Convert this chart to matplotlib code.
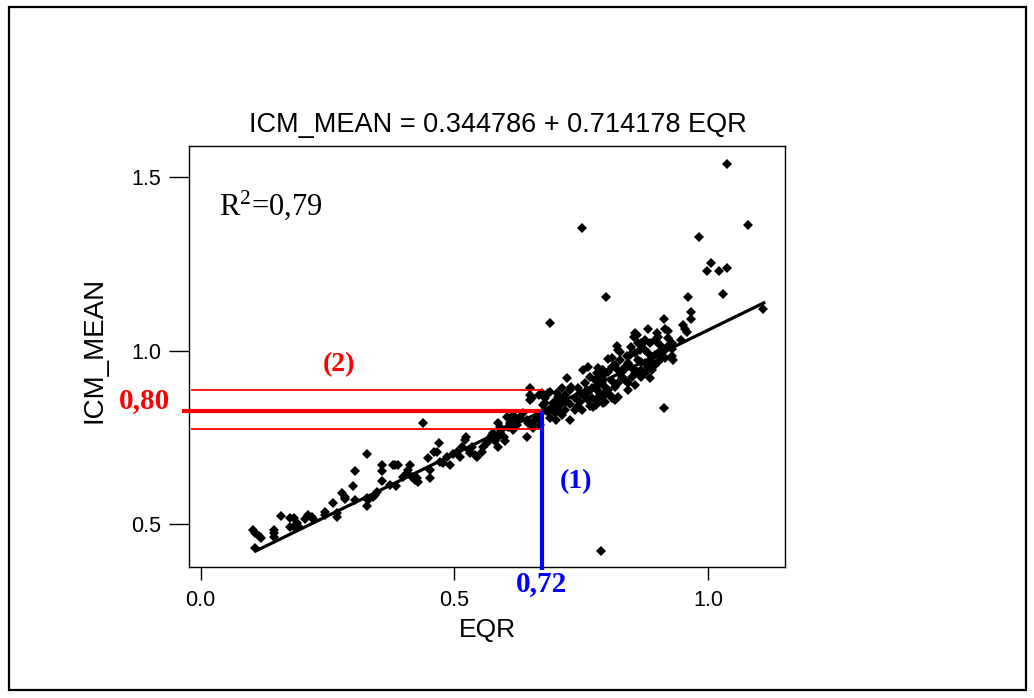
import matplotlib
matplotlib.use("Agg")
import matplotlib.pyplot as plt
from matplotlib.patches import Rectangle

plt.rcParams['font.family'] = ['Liberation Sans', 'DejaVu Sans']
plt.rcParams['mathtext.fontset'] = 'custom'
plt.rcParams['mathtext.rm'] = 'Liberation Serif'
plt.rcParams['mathtext.it'] = 'Liberation Serif:italic'

# ---------------- data ----------------
eqr = [0.108, 0.104, 0.108, 0.114, 0.118, 0.145, 0.145, 0.145, 0.158, 0.176,
       0.183, 0.176, 0.183, 0.189, 0.192, 0.206, 0.212, 0.219, 0.222, 0.245,
       0.245, 0.261, 0.268, 0.268, 0.278, 0.285, 0.285, 0.301, 0.304, 0.304,
       0.327, 0.327, 0.327, 0.330, 0.340, 0.344, 0.347, 0.357, 0.358, 0.358,
       0.380, 0.373, 0.438, 0.384, 0.388, 0.386, 0.399, 0.406, 0.409, 0.413,
       0.416, 0.423, 0.426, 0.429, 0.449, 0.452, 0.452, 0.459, 0.465, 0.470,
       0.472, 0.478, 0.485, 0.492, 0.498, 0.505, 0.511, 0.515, 0.521, 0.524,
       0.528, 0.531, 0.534, 0.541, 0.544, 0.554, 0.557, 0.564, 0.567, 0.570,
       0.574, 0.577, 0.580, 0.584, 0.587, 0.590, 0.593, 0.597, 0.600, 0.587,
       0.590, 0.603, 0.606, 0.610, 0.616, 0.623, 0.649, 0.649, 0.653, 0.649,
       0.666, 0.672, 0.679, 0.685, 0.689, 0.610, 0.616, 0.623, 0.630, 0.636,
       0.643, 0.646, 0.653, 0.659, 0.666, 0.643, 0.656, 0.685, 0.692, 0.699,
       0.705, 0.712, 0.718, 0.722, 0.728, 0.731, 0.738, 0.741, 0.744, 0.748,
       0.754, 0.758, 0.761, 0.763, 0.768, 0.771, 0.774, 0.777, 0.781, 0.784,
       0.787, 0.791, 0.794, 0.728, 0.751, 0.718, 0.705, 0.699, 0.758, 0.764,
       0.800, 0.960, 0.967, 0.967, 0.914, 0.881, 0.951, 0.955, 0.958, 0.899,
       0.902, 0.915, 0.921, 0.856, 0.860, 0.855, 0.863, 0.869, 0.873, 0.896,
       0.899, 0.820, 0.823, 0.827, 0.848, 0.856, 0.930, 0.930, 0.930, 0.932,
       0.804, 0.876, 0.882, 0.889, 0.896, 0.902, 0.909, 0.915, 0.922, 0.863,
       0.869, 0.876, 0.882, 0.889, 0.896, 0.902, 0.909, 0.915, 0.886, 0.856,
       0.817, 0.823, 0.914, 0.784, 0.791, 0.797, 0.804, 0.810, 0.817, 0.823,
       0.830, 0.837, 0.843, 0.850, 0.856, 0.830, 0.837, 0.843, 0.850, 0.856,
       0.863, 0.869, 0.784, 0.791, 0.797, 0.804, 0.810, 0.817, 0.823, 0.781,
       0.787, 0.794, 0.800, 0.807, 0.843, 0.869, 0.876, 0.689, 1.030, 1.109,
       1.038, 1.080, 0.982, 1.006, 0.999, 1.021, 1.038, 0.751, 0.790, 0.946,
       0.679, 0.689, 0.701, 0.712, 0.708, 0.720, 0.669, 0.675, 0.768,
       0.780, 0.794, 0.784, 0.797, 0.811, 0.728, 0.738, 0.748, 0.764, 0.772,
       0.780, 0.712, 0.703, 0.695, 0.679, 0.886, 0.906, 0.922, 0.876, 0.866,
       0.840, 0.827, 0.811, 0.847, 0.890]

icm = [0.430, 0.483, 0.475, 0.466, 0.459, 0.483, 0.473, 0.462, 0.523, 0.517,
       0.517, 0.492, 0.492, 0.502, 0.494, 0.514, 0.526, 0.521, 0.514, 0.536,
       0.526, 0.562, 0.531, 0.521, 0.590, 0.571, 0.579, 0.610, 0.653, 0.569,
       0.701, 0.552, 0.574, 0.569, 0.579, 0.584, 0.593, 0.624, 0.653, 0.670,
       0.670, 0.613, 0.791, 0.670, 0.670, 0.610, 0.637, 0.646, 0.656, 0.670,
       0.637, 0.627, 0.632, 0.622, 0.690, 0.656, 0.634, 0.709, 0.709, 0.735,
       0.680, 0.675, 0.694, 0.670, 0.702, 0.709, 0.694, 0.723, 0.742, 0.752,
       0.714, 0.704, 0.723, 0.699, 0.694, 0.709, 0.723, 0.733, 0.742, 0.747,
       0.757, 0.762, 0.738, 0.747, 0.723, 0.762, 0.771, 0.752, 0.738, 0.791,
       0.781, 0.810, 0.781, 0.791, 0.771, 0.786, 0.892, 0.872, 0.863, 0.858,
       0.872, 0.877, 0.863, 0.877, 0.882, 0.800, 0.815, 0.800, 0.810, 0.819,
       0.800, 0.791, 0.786, 0.800, 0.805, 0.752, 0.776, 0.824, 0.838, 0.853,
       0.867, 0.858, 0.872, 0.920, 0.887, 0.896, 0.863, 0.838, 0.892, 0.877,
       0.944, 0.906, 0.887, 0.954, 0.925, 0.892, 0.838, 0.915, 0.935, 0.901,
       0.872, 0.925, 0.944, 0.800, 0.829, 0.829, 0.829, 0.819, 0.867, 0.858,
       1.154, 1.154, 1.110, 1.091, 1.091, 1.062, 1.074, 1.062, 1.055, 1.050,
       1.040, 1.062, 1.057, 1.052, 1.045, 1.040, 1.021, 1.021, 1.021, 1.031,
       1.026, 1.012, 1.002, 0.997, 1.010, 0.994, 1.021, 1.004, 0.985, 0.973,
       0.975, 1.002, 0.992, 0.983, 0.988, 0.992, 0.997, 1.002, 1.012, 0.973,
       0.968, 0.964, 0.954, 0.944, 0.959, 0.968, 0.978, 0.978, 0.920, 0.901,
       0.858, 0.867, 0.834, 0.949, 0.944, 0.935, 0.939, 0.954, 0.959, 0.944,
       0.939, 0.954, 0.964, 0.949, 0.944, 0.925, 0.915, 0.906, 0.925, 0.935,
       0.939, 0.925, 0.915, 0.906, 0.896, 0.887, 0.911, 0.896, 0.906, 0.887,
       0.877, 0.867, 0.882, 0.872, 0.887, 0.944, 0.935, 1.081, 1.163, 1.119,
       1.539, 1.363, 1.329, 1.254, 1.230, 1.230, 1.239, 1.353, 0.423, 1.030,
       0.829, 0.805, 0.800, 0.815, 0.844, 0.852, 0.786, 0.844, 0.841,
       0.858, 0.849, 0.863, 0.852, 0.863, 0.846, 0.829, 0.852, 0.880, 0.863,
       0.843, 0.892, 0.878, 0.849, 0.849, 1.022, 1.016, 1.036, 1.031, 1.002,
       0.985, 0.973, 0.979, 0.988, 0.967]

# regression shown in the title
intercept = 0.344786
slope = 0.714178
fit_eqr = [0.106, 1.113]

# reading of the threshold (annotation)
cut_eqr = 0.672
cut_icm = 0.825
band_low = 0.773
band_high = 0.887
x_ticks = [0.0, 0.5, 1.0]
y_ticks = [0.5, 1.0, 1.5]
x_tick_labels = ['0.0', '0.5', '1.0']
y_tick_labels = ['0.5', '1.0', '1.5']

title_text = 'ICM_MEAN = 0.344786 + 0.714178 EQR'
r2_text = r'R$^{2}$=0,79'

W, H = 1034, 698
fig = plt.figure(figsize=(W / 100, H / 100), dpi=100)
fig.patch.set_facecolor('white')

ax = fig.add_axes([189.3 / W, 1 - 566.7 / H, (785 - 189.3) / W, (566.7 - 146) / H])
ax.set_xlim(-0.0225, 1.152)
ax.set_ylim(0.377, 1.590)

ax.plot(eqr, icm, linestyle='none', marker='D', ms=4.6, color='black',
        mec='black', mew=0, zorder=3)
fit_icm = [intercept + slope * x for x in fit_eqr]
ax.plot(fit_eqr, fit_icm, color='black', lw=2.3, solid_capstyle='butt', zorder=4)

# red horizontal lines
ax.plot([-0.0375, cut_eqr], [cut_icm, cut_icm], color='#ff0000', lw=3.0,
        clip_on=False, solid_capstyle='butt', zorder=6)
ax.plot([-0.019, cut_eqr + 0.003], [band_high, band_high], color='#ff0000', lw=1.3,
        solid_capstyle='butt', zorder=6)
ax.plot([-0.019, cut_eqr + 0.003], [band_low, band_low], color='#ff0000', lw=1.3,
        solid_capstyle='butt', zorder=6)
# blue vertical line
ax.plot([cut_eqr, cut_eqr], [cut_icm, 0.3675], color='#0000ff', lw=3.0,
        clip_on=False, solid_capstyle='butt', zorder=7)

ax.set_xticks(x_ticks)
ax.set_xticklabels(x_tick_labels)
ax.set_yticks(y_ticks)
ax.set_yticklabels(y_tick_labels)
ax.tick_params(axis='y', length=14.4, width=1.0, pad=6, labelsize=15.5, direction='out')
ax.tick_params(axis='x', length=9, width=1.0, pad=8, labelsize=15.5, direction='out')
for s in ax.spines.values():
    s.set_linewidth(1.0)

# texts
fig.text(497.5 / W, 1 - 131.7 / H, title_text, ha='center', va='baseline', fontsize=19.5)
fig.text(487 / W, 1 - 630 / H, 'EQR', ha='center', va='center', fontsize=19)
fig.text(95 / W, 1 - 350 / H, 'ICM_MEAN', ha='center', va='center', fontsize=20, rotation=90)
fig.text(219 / W, 1 - 215 / H, r2_text, ha='left', va='baseline', fontsize=22,
         family='Liberation Serif')
fig.text(145 / W, 1 - 408.5 / H, '0,80', ha='center', va='baseline', fontsize=21,
         family='Liberation Serif', weight='bold', color='#ff0000')
fig.text(338.8 / W, 1 - 365 / H, '(2)', ha='center', va='center', fontsize=20,
         family='Liberation Serif', weight='bold', color='#ff0000')
fig.text(575.8 / W, 1 - 481.5 / H, '(1)', ha='center', va='center', fontsize=20,
         family='Liberation Serif', weight='bold', color='#0000ff')
fig.text(541.3 / W, 1 - 591.5 / H, '0,72', ha='center', va='baseline', fontsize=21,
         family='Liberation Serif', weight='bold', color='#0000ff')

# outer frame
fig.add_artist(Rectangle((9 / W, 1 - 690 / H), (1026 - 9) / W, (690 - 7.3) / H,
                         transform=fig.transFigure, fill=False, edgecolor='black',
                         linewidth=1.6))

fig.savefig('out.png', dpi=100)
